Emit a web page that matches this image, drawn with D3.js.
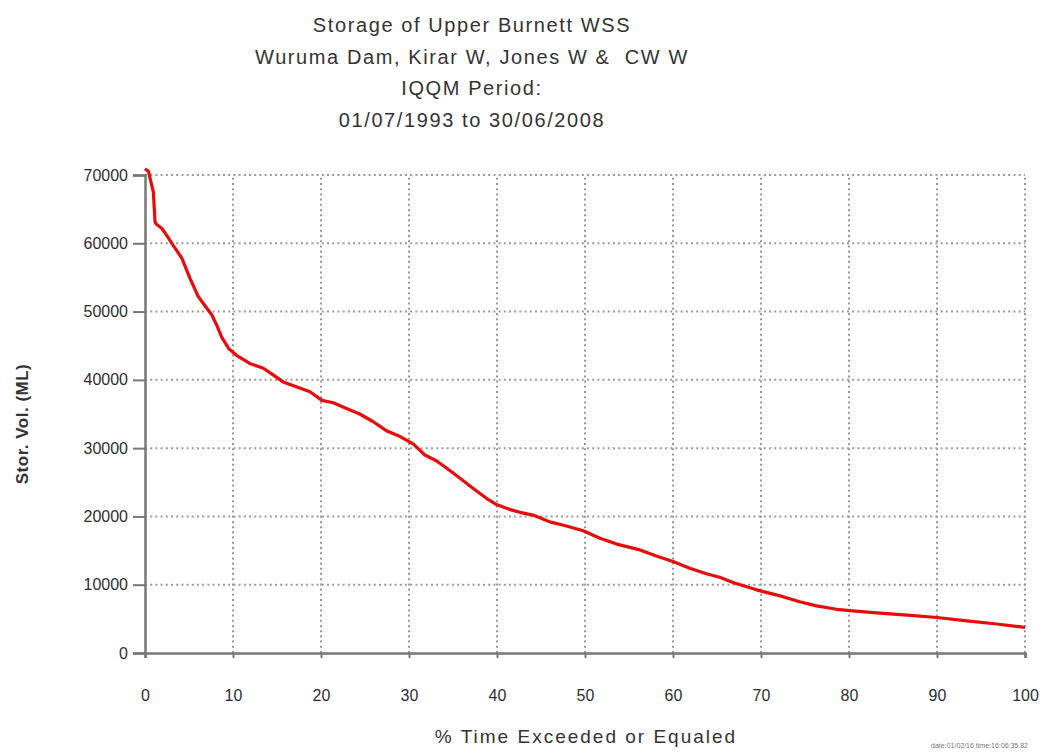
<!DOCTYPE html>
<html>
<head>
<meta charset="utf-8">
<script src="https://cdn.jsdelivr.net/npm/d3@7"></script>
<style>
  body { margin: 0; background: #fff; }
  svg { display: block; font-family: "Liberation Sans", Arial, sans-serif; }
</style>
</head>
<body>
<div id="chart"></div>
<script>
// duration curve
const pctExceeded = [0, 0.4, 0.95, 1.14, 1.33, 1.9, 2.45, 3.2, 4.2, 5.1, 6.05, 6.8, 7.6, 8.15, 8.7, 9.5,
  10.4, 11.9, 13.45, 14.6, 15.7, 17.2, 18.75, 20.1, 21.4, 22.9, 24.4, 25.9, 27.5, 29.0, 30.5, 31.8,
  33.1, 34.3, 35.8, 37.3, 38.8, 40.0, 41.5, 42.6, 44.1, 46.0, 47.9, 49.8, 51.7, 53.6, 56.25, 58.1,
  60.0, 61.9, 63.8, 65.3, 66.9, 69.5, 72.5, 74.4, 76.3, 78.6, 80.1, 82.8, 86.6, 90.0, 93.4, 96.8, 100];
const storage = [70900, 70500, 67500, 63100, 62750, 62200, 61200, 59700, 57800, 54900, 52200, 50900, 49500, 48000, 46300, 44600,
  43600, 42400, 41700, 40700, 39700, 39000, 38250, 37000, 36650, 35800, 35000, 33900, 32500, 31700, 30600, 29000,
  28150, 27050, 25600, 24100, 22650, 21700, 21000, 20600, 20200, 19200, 18600, 17900, 16800, 15950, 15100, 14200,
  13400, 12400, 11600, 11100, 10300, 9250, 8250, 7500, 6900, 6400, 6200, 5900, 5550, 5200, 4700, 4250, 3750];

const xTicks = [0, 10, 20, 30, 40, 50, 60, 70, 80, 90, 100];
const yTicks = [0, 10000, 20000, 30000, 40000, 50000, 60000, 70000];

const titleLines = ["Storage of Upper Burnett WSS", "Wuruma Dam, Kirar W, Jones W &  CW W", "IQQM Period:", "01/07/1993 to 30/06/2008"];

const width = 1042, height = 756;
const margin = {top: 175, right: 17, bottom: 103, left: 145};

const svg = d3.select("#chart")
  .append("svg")
  .attr("width", width)
  .attr("height", height);

const x = d3.scaleLinear().domain([0, 100]).range([margin.left, width - margin.right]);
const y = d3.scaleLinear().domain([0, 70000]).range([height - margin.bottom, margin.top]);

// title
svg.append("g")
  .selectAll("text")
  .data(titleLines)
  .enter()
  .append("text")
  .attr("x", 472)
  .attr("y", (d, i) => 32 + i * 31.5)
  .attr("text-anchor", "middle")
  .style("font-size", "20px")
  .style("letter-spacing", "1.6px")
  .style("white-space", "pre")
  .style("fill", "#333")
  .text(d => d);

// dotted grid
svg.append("g")
  .selectAll("line")
  .data(yTicks.filter(d => d > 0))
  .enter()
  .append("line")
  .attr("x1", x(0)).attr("x2", x(100))
  .attr("y1", d => y(d)).attr("y2", d => y(d))
  .attr("stroke", "#9a9a9a")
  .attr("stroke-width", 2)
  .attr("stroke-dasharray", "2,3.2");

svg.append("g")
  .selectAll("line")
  .data(xTicks.filter(d => d > 0))
  .enter()
  .append("line")
  .attr("x1", d => x(d)).attr("x2", d => x(d))
  .attr("y1", y(0)).attr("y2", y(70000))
  .attr("stroke", "#9a9a9a")
  .attr("stroke-width", 2)
  .attr("stroke-dasharray", "2,3.2");

// axes
const xAxis = svg.append("g")
  .attr("transform", `translate(0, ${y(0)})`)
  .call(d3.axisBottom(x).tickValues(xTicks).tickSize(5).tickPadding(32).tickFormat(d3.format("d")));
const yAxis = svg.append("g")
  .attr("transform", `translate(${x(0)}, 0)`)
  .call(d3.axisLeft(y).tickValues(yTicks).tickSize(12).tickPadding(5).tickFormat(d3.format("d")));

[xAxis, yAxis].forEach(g => {
  g.select(".domain").attr("stroke", "#777").attr("stroke-width", 2.5);
  g.selectAll(".tick line").attr("stroke", "#777").attr("stroke-width", 2);
  g.selectAll(".tick text").style("font-size", "16px").style("fill", "#2e2e2e").style("font-family", "Liberation Sans, Arial, sans-serif");
});

// curve
const line = d3.line()
  .x((d, i) => x(pctExceeded[i]))
  .y(d => y(d));

svg.append("path")
  .datum(storage)
  .attr("fill", "none")
  .attr("stroke", "#ea0a0a")
  .attr("stroke-width", 3.2)
  .attr("stroke-linejoin", "round")
  .attr("d", line);

// axis titles
svg.append("text")
  .attr("x", 586)
  .attr("y", 743)
  .attr("text-anchor", "middle")
  .style("font-size", "19px")
  .style("letter-spacing", "2px")
  .style("fill", "#333")
  .text("% Time Exceeded or Equaled");

svg.append("text")
  .attr("transform", "translate(28, 424) rotate(-90)")
  .attr("text-anchor", "middle")
  .style("font-size", "17px")
  .style("font-weight", "bold")
  .style("letter-spacing", "0.5px")
  .style("fill", "#333")
  .text("Stor. Vol. (ML)");

svg.append("text")
  .attr("x", 1028)
  .attr("y", 748)
  .attr("text-anchor", "end")
  .style("font-size", "7px")
  .style("fill", "#777")
  .text("date:01/02/16 time:16:06:35.82");
</script>
</body>
</html>
